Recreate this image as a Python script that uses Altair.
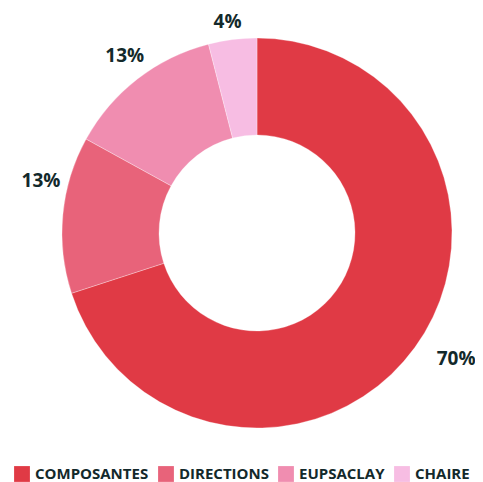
import altair as alt
import pandas as pd

categories = ["COMPOSANTES", "DIRECTIONS", "EUPSACLAY", "CHAIRE"]
values = [70, 13, 13, 4]
labels = ["70%", "13%", "13%", "4%"]
colors = ["#E03A45", "#E8637A", "#F08DB0", "#F7BDE3"]

df = pd.DataFrame({
    "cat": categories,
    "value": values,
    "label": labels,
    "idx": list(range(len(categories))),
})
total = sum(values)

CX, CY = 249, 225

base = alt.Chart(df).transform_stack(
    stack="value", as_=["v0", "v1"], groupby=[], sort=[alt.SortField("idx")]
).transform_calculate(mid="(datum.v0 + datum.v1) / 2")

arc = base.mark_arc(innerRadius=98, outerRadius=195, stroke="#ffffff", strokeWidth=0.3).encode(
    theta=alt.Theta("v0:Q", scale=alt.Scale(domain=[0, total])),
    theta2="v1:Q",
    x=alt.value(CX),
    y=alt.value(CY),
    color=alt.Color(
        "cat:N",
        scale=alt.Scale(domain=categories, range=colors),
        sort=categories,
        legend=alt.Legend(
            title=None,
            orient="none",
            legendX=6,
            legendY=458,
            direction="horizontal",
            symbolType="square",
            symbolSize=250,
            symbolStrokeWidth=0,
            labelFont="Open Sans",
            labelFontSize=15,
            labelFontWeight="bold",
            labelColor="#13292b",
            labelOffset=5,
            columnPadding=9,
        ),
    ),
)

text_style = dict(font="Open Sans", fontSize=19, fontWeight="bold", color="#13292b", radius=219)
# per-label nudges (dx, dy) to mimic the reference's label placement
nudges = [(22, -3), (2, -31), (2, -3.5), (-2, 6)]

layers = [arc]
for i, (ddx, ddy) in enumerate(nudges):
    layers.append(
        base.transform_filter(f"datum.idx == {i}")
        .mark_text(dx=ddx, dy=ddy, **text_style)
        .encode(
            theta=alt.Theta("mid:Q", scale=alt.Scale(domain=[0, total])),
            x=alt.value(CX), y=alt.value(CY), text="label:N",
        )
    )

chart = alt.layer(*layers).properties(
    width=467, height=474, padding=0,
    autosize=alt.AutoSizeParams(type="none"),
).configure_view(stroke=None)

chart.save("out.html", embed_options={"renderer": "svg", "actions": False})
